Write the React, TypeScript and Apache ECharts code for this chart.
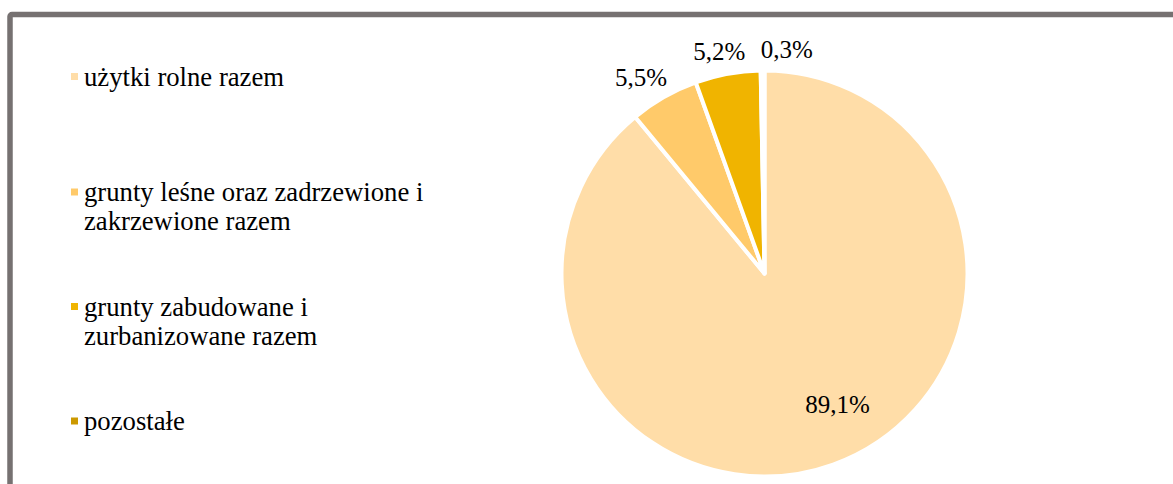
import React, { useEffect, useRef } from "react";
import * as echarts from "echarts";

// ---- data ----
const categories: string[] = [
  "użytki rolne razem",
  "grunty leśne oraz zadrzewione i zakrzewione razem",
  "grunty zabudowane i zurbanizowane razem",
  "pozostałe",
];
const legendLabels: string[] = [
  "użytki rolne razem",
  "grunty leśne oraz zadrzewione i\nzakrzewione razem",
  "grunty zabudowane i\nzurbanizowane razem",
  "pozostałe",
];
const shares: number[] = [89.1, 5.5, 5.2, 0.3];
const colors: string[] = ["#FFDDA8", "#FFCA6A", "#F0B400", "#CC9900"];

// ---- layout constants ----
const FONT = "Liberation Serif";
const LEGEND_LINE = 29;
const legendMarkerCenters = [76.5, 192, 306.5, 421];
const labelNudges: [number, number][] = [
  [37.6, 32.5],
  [12.5, -3],
  [21, -3.4],
  [50.5, -2],
];

const fmt = (v: number) => `${v.toFixed(1).replace(".", ",")}%`;

export default function App() {
  const ref = useRef<HTMLDivElement>(null);

  useEffect(() => {
    if (!ref.current) return;
    const chart = echarts.init(ref.current, undefined, { renderer: "svg" });

    const legends = categories.map((name, i) => {
      const twoLine = legendLabels[i].includes("\n");
      // an empty leading line keeps the marker level with the first text line
      const shown = twoLine ? "\n" + legendLabels[i] : legendLabels[i];
      const h = twoLine ? LEGEND_LINE * 3 : LEGEND_LINE;
      return {
        data: [name],
        orient: "vertical",
        left: 69,
        top: legendMarkerCenters[i] - h / 2,
        padding: 0,
        itemWidth: 9,
        itemHeight: 9,
        icon: "rect",
        selectedMode: false,
        formatter: () => shown,
        textStyle: {
          fontFamily: FONT,
          fontSize: 26.7,
          lineHeight: LEGEND_LINE,
          color: "#000",
        },
      };
    });

    chart.setOption({
      animation: false,
      color: colors,
      textStyle: { fontFamily: FONT },
      graphic: [
        {
          type: "rect",
          shape: { x: 10, y: 14.5, width: 1300, height: 700, r: 2 },
          style: { fill: "none", stroke: "#767171", lineWidth: 5.5 },
          silent: true,
        },
      ],
      legend: legends,
      series: [
        {
          type: "pie",
          center: [764.5, 273.5],
          radius: 203,
          startAngle: 90,
          clockwise: true,
          avoidLabelOverlap: false,
          silent: true,
          itemStyle: { borderColor: "#FFFFFF", borderWidth: 4 },
          label: {
            show: true,
            position: "outside",
            fontFamily: FONT,
            fontSize: 25,
            color: "#000",
            distanceToLabelLine: 0,
            formatter: (p: any) => fmt(p.value),
          },
          labelLine: { show: false, length: 19, length2: 0 },
          labelLayout: (p: any) => {
            const n = labelNudges[p.dataIndex] || [0, 0];
            return { dx: n[0], dy: n[1] };
          },
          emphasis: { disabled: true },
          data: categories.map((name, i) => ({
            name,
            value: shares[i],
            ...(i === 0 ? { label: { position: "inside" } } : {}),
          })),
        },
      ],
    });

    return () => chart.dispose();
  }, []);

  return (
    <div
      ref={ref}
      style={{ position: "fixed", left: 0, top: 0, width: 1173, height: 484, background: "#fff" }}
    />
  );
}
